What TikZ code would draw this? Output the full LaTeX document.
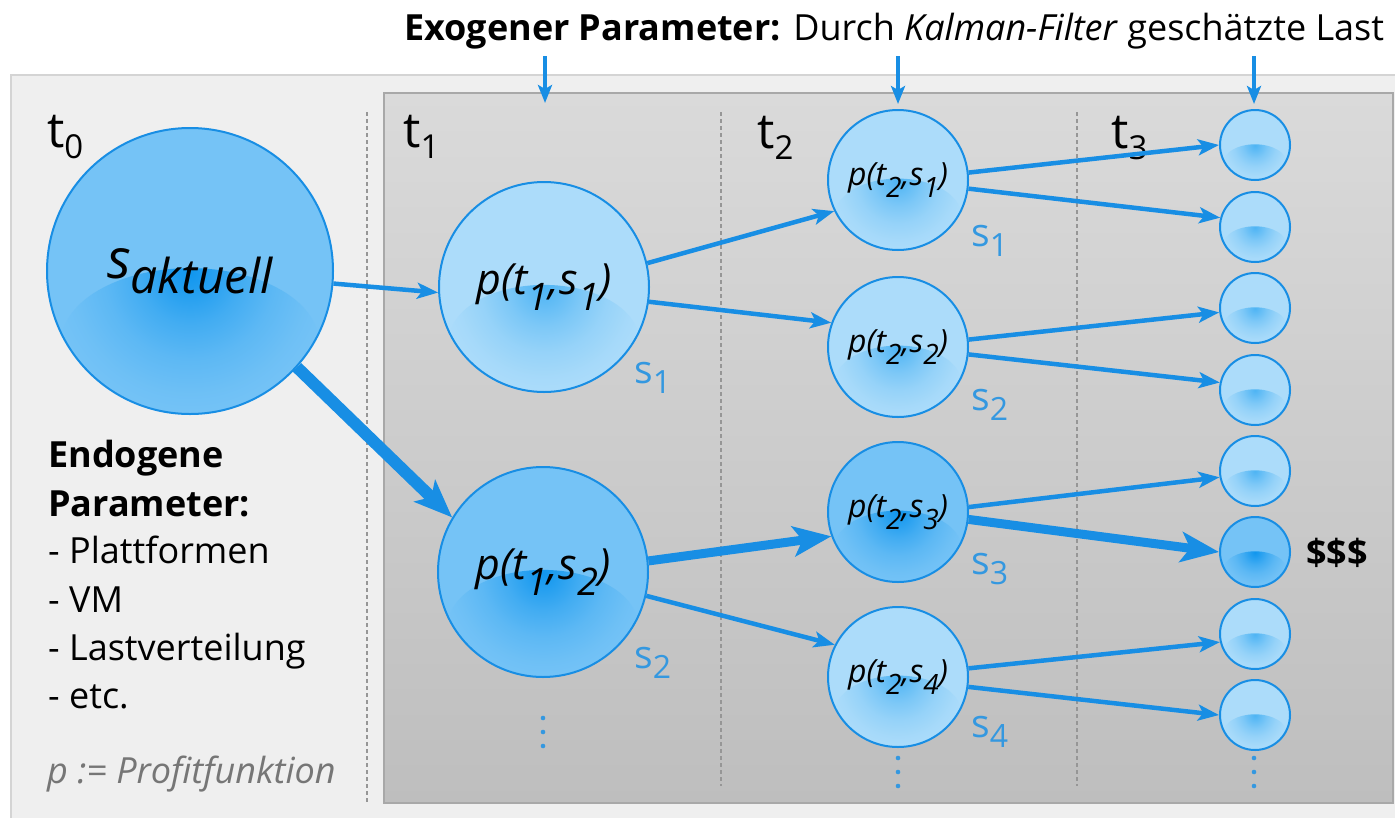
\documentclass[tikz,border=0pt]{standalone}
\usepackage{fontspec}
\setmainfont{Open Sans}
\usetikzlibrary{arrows.meta}

\definecolor{cblue}{RGB}{24,142,228}
\definecolor{labblue}{RGB}{52,152,224}
\definecolor{lightfill}{RGB}{172,220,250}
\definecolor{lightspot}{RGB}{78,180,244}
\definecolor{darkfill}{RGB}{117,195,246}
\definecolor{darkspot}{RGB}{16,150,238}
\definecolor{outerfill}{RGB}{239,239,239}
\definecolor{outerline}{RGB}{212,212,212}
\definecolor{innertop}{RGB}{218,218,218}
\definecolor{innerbot}{RGB}{190,190,190}
\definecolor{innerline}{RGB}{168,168,168}
\definecolor{dashgray}{RGB}{150,150,150}
\definecolor{notegray}{RGB}{118,118,118}
% intermediate tones for a smooth fall-off of the spots
\colorlet{lightA}{lightspot!78!lightfill}
\colorlet{lightB}{lightspot!50!lightfill}
\colorlet{lightC}{lightspot!24!lightfill}
\colorlet{lightD}{lightspot!7!lightfill}
\colorlet{darkA}{darkspot!78!darkfill}
\colorlet{darkB}{darkspot!50!darkfill}
\colorlet{darkC}{darkspot!24!darkfill}
\colorlet{darkD}{darkspot!7!darkfill}

% soft spot in the lower half of each state circle
% (the central 50bp of a shading is mapped onto the shaded path)
\pgfdeclareradialshading{glowlight}{\pgfpoint{0bp}{0bp}}{color(0bp)=(lightspot); color(4bp)=(lightA); color(9bp)=(lightB); color(15bp)=(lightC); color(21bp)=(lightD); color(25bp)=(lightfill); color(50bp)=(lightfill)}
\pgfdeclareradialshading{glowdark}{\pgfpoint{0bp}{0bp}}{color(0bp)=(darkspot); color(4bp)=(darkA); color(9bp)=(darkB); color(15bp)=(darkC); color(21bp)=(darkD); color(25bp)=(darkfill); color(50bp)=(darkfill)}

% lowered index in text: size, drop, content
\newcommand\lowsub[3]{\raisebox{-#2pt}{\fontsize{#1}{#1}\selectfont #3}}

\tikzset{
  stnode/.style={circle, draw=cblue, line width=2pt, inner sep=0pt, text=black},
  glowat/.style 2 args={path picture={\shade[shading=#1]
      ([yshift={-0.5*#2pt}]path picture bounding box.center)
      ellipse [x radius={0.9*#2pt}, y radius={0.52*#2pt}];}},
  lightc/.style={stnode, fill=lightfill, minimum size={2*#1pt}, glowat={glowlight}{#1}},
  darkc/.style={stnode, fill=darkfill, minimum size={2*#1pt}, glowat={glowdark}{#1}},
  conn/.style={draw=cblue, line width=4.5pt,
      -{Stealth[length=21pt,width=16pt,inset=5pt]}},
  heavyconn/.style={draw=cblue, line width=#1,
      -{Stealth[length=38pt,width=30pt,inset=9pt]}},
  txt/.style={inner sep=0pt, anchor=base west},
  body/.style={txt, font=\fontsize{36}{40}\selectfont},
  tlabel/.style={txt, font=\fontsize{49}{52}\selectfont},
  slabel/.style={txt, text=labblue, font=\fontsize{39}{42}\selectfont},
  sepline/.style={draw=dashgray, line width=1.4pt, dash pattern=on 4pt off 3pt},
}

\begin{document}
\begin{tikzpicture}[x=1pt, y=-1pt]
\useasboundingbox (0,0) rectangle (1395,817);
\clip (0,0) rectangle (1395,817);

% panels
\draw[fill=outerfill, draw=outerline, line width=2pt] (11,75) rectangle (1420,840);
\shade[top color=innertop, bottom color=innerbot] (384,93) rectangle (1393,803);
\draw[innerline, line width=2pt] (384,93) rectangle (1393,803);

% time separators
\draw[sepline] (367,112) -- (367,802);
\draw[sepline] (721,112) -- (721,786);
\draw[sepline] (1077,112) -- (1077,786);

% heading and exogenous inputs
\node[body] (title) at (404,40) {\textbf{Exogener Parameter:} Durch \textit{Kalman-Filter} geschätzte Last};
\coordinate (ex1a) at (545,56);  \coordinate (ex1b) at (545,103);
\coordinate (ex2a) at (898,56);  \coordinate (ex2b) at (898,104);
\coordinate (ex3a) at (1254,56); \coordinate (ex3b) at (1254,104);
\foreach \a/\b in {ex1a/ex1b, ex2a/ex2b, ex3a/ex3b}
  \draw[draw=cblue, line width=4.5pt, -{Stealth[length=18pt,width=14pt,inset=4pt]}] (\a) -- (\b);

% time labels
\node[tlabel] (t0) at (47,147) {t\lowsub{33}{11}{0}};
\node[tlabel] (t1) at (403,147) {t\lowsub{33}{11}{1}};
\node[tlabel] (t2) at (757,148) {t\lowsub{33}{11}{2}};
\node[tlabel] (t3) at (1111,148) {t\lowsub{33}{11}{3}};

% states
\node[darkc=143, font=\fontsize{55}{58}\selectfont\itshape] (sa) at (190,271)
  {s\lowsub{48}{15}{aktuell}};
\node[lightc=105, font=\fontsize{43}{46}\selectfont\itshape] (p11) at (544,287)
  {p(t\lowsub{38}{16}{1},s\lowsub{38}{16}{1})};
\node[darkc=105, font=\fontsize{43}{46}\selectfont\itshape] (p12) at (543,572)
  {p(t\lowsub{38}{16}{1},s\lowsub{38}{16}{2})};

\node[lightc=70, font=\fontsize{32}{34}\selectfont\itshape] (p21) at (898,180)
  {p(t\lowsub{28}{12}{2},s\lowsub{28}{12}{1})};
\node[lightc=70, font=\fontsize{32}{34}\selectfont\itshape] (p22) at (898,347)
  {p(t\lowsub{28}{12}{2},s\lowsub{28}{12}{2})};
\node[darkc=70, font=\fontsize{32}{34}\selectfont\itshape] (p23) at (898,512)
  {p(t\lowsub{28}{12}{2},s\lowsub{28}{12}{3})};
\node[lightc=70, font=\fontsize{32}{34}\selectfont\itshape] (p24) at (898,677)
  {p(t\lowsub{28}{12}{2},s\lowsub{28}{12}{4})};

\foreach \n/\y in {c1/145, c2/227, c3/308, c4/390, c5/471, c7/634, c8/715}
  \node[lightc=35] (\n) at (1255,\y) {};
\node[darkc=35] (c6) at (1255,552) {};

% state indices
\node[slabel] (l11) at (634,383) {s\lowsub{32}{10}{1}};
\node[slabel] (l12) at (634,668) {s\lowsub{32}{10}{2}};
\node[slabel] (l21) at (971,246) {s\lowsub{32}{10}{1}};
\node[slabel] (l22) at (971,410) {s\lowsub{32}{10}{2}};
\node[slabel] (l23) at (971,574) {s\lowsub{32}{10}{3}};
\node[slabel] (l24) at (971,737) {s\lowsub{32}{10}{4}};

% continuation dots
\foreach \x/\y in {543/718, 898/758, 1254/758}
  \foreach \k in {0,14,28}
    \fill[labblue] (\x,\y+\k) circle[radius=2.3pt];

% transitions
\draw[conn] (sa.-5) -- (p11.183);
\draw[heavyconn=12pt] (sa.-42) -- (p12.149);
\draw[conn] (p11.13) -- (p21.206);
\draw[conn] (p11.-8) -- (p22.160);
\draw[heavyconn=9pt] (p12.6) -- (p23.200);
\draw[conn] (p12.-13) -- (p24.153);
\draw[conn] (p21.6) -- (c1.180);
\draw[conn] (p21.-7) -- (c2.165);
\draw[conn] (p22.6) -- (c3.187);
\draw[conn] (p22.-6) -- (c4.168);
\draw[conn] (p23.4) -- (c5.190);
\draw[heavyconn=9pt] (p23.-6) -- (c6.180);
\draw[conn] (p24.7) -- (c7.193);
\draw[conn] (p24.-8) -- (c8.180);

\node[body, anchor=west, font=\fontsize{36}{40}\selectfont\bfseries] (gain) at (1306,553) {\$\$\$};

% endogenous parameters
\node[body, font=\fontsize{36}{40}\selectfont\bfseries] (en1) at (48,467) {Endogene};
\node[body, font=\fontsize{36}{40}\selectfont\bfseries] (en2) at (48,516) {Parameter:};
\node[body] (en3) at (48,563) {- Plattformen};
\node[body] (en4) at (48,612) {- VM};
\node[body] (en5) at (48,660) {- Lastverteilung};
\node[body] (en6) at (48,708) {- etc.};
\node[body, text=notegray, font=\fontsize{36}{40}\selectfont\itshape] (def) at (47,783) {p := Profitfunktion};
\end{tikzpicture}
\end{document}
